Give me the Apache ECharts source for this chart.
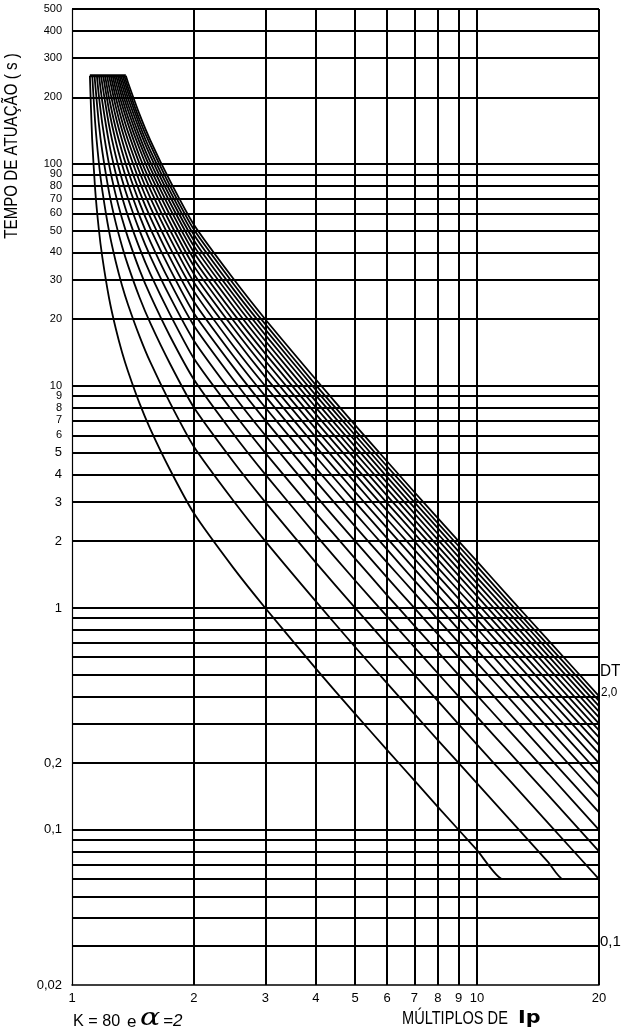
<!DOCTYPE html>
<html>
<head>
<meta charset="utf-8">
<script src="https://cdn.jsdelivr.net/npm/echarts@6/dist/echarts.min.js"></script>
<style>
html,body{margin:0;padding:0;background:#fff;}
#chart{width:624px;height:1033px;}
</style>
</head>
<body>
<div id="chart"></div>
<script>
// ---- data ----
const multiples = [1.121, 1.14, 1.164, 1.188, 1.235, 1.282, 1.329, 1.376, 1.469, 1.561, 1.742, 2, 2.5, 3, 4, 5, 6, 7, 8, 10, 12, 15, 20];
const dtLabels = [0.1,0.2,0.3,0.4,0.5,0.6,0.7,0.8,0.9,1.0,1.1,1.2,1.3,1.4,1.5,1.6,1.7,1.8,1.9,2.0];
const dt01 = [131, 78, 51.4, 38.1, 24.8, 18.2, 14.2, 11.6, 8.33, 6.4, 4.23, 2.67, 1.52, 1.0, 0.533, 0.333, 0.229, 0.167, 0.127, 0.081, 0.06, 0.06, 0.06];
const dt02 = [null, 156, 103, 76.2, 49.6, 36.4, 28.4, 23.2, 16.7, 12.8, 8.47, 5.33, 3.05, 2.0, 1.07, 0.667, 0.457, 0.333, 0.254, 0.162, 0.112, 0.0714, 0.06];
const dt03 = [null, 234, 154, 114, 74.4, 54.5, 42.7, 34.8, 25, 19.2, 12.7, 8.0, 4.57, 3.0, 1.6, 1.0, 0.686, 0.5, 0.381, 0.242, 0.168, 0.107, 0.06];
const dt04 = [null, null, 206, 152, 99.2, 72.7, 56.9, 46.4, 33.3, 25.6, 16.9, 10.7, 6.1, 4.0, 2.13, 1.33, 0.914, 0.667, 0.508, 0.323, 0.224, 0.143, 0.08];
const dt05 = [null, null, null, 191, 124, 90.9, 71.1, 58.0, 41.7, 32, 21.2, 13.3, 7.62, 5.0, 2.67, 1.67, 1.14, 0.833, 0.635, 0.404, 0.28, 0.179, 0.1];
const dt06 = [null, null, null, 229, 149, 109, 85.3, 69.6, 50, 38.4, 25.4, 16.0, 9.14, 6.0, 3.2, 2.0, 1.37, 1.0, 0.762, 0.485, 0.336, 0.214, 0.12];
const dt07 = [null, null, null, null, 174, 127, 99.6, 81.2, 58.3, 44.8, 29.6, 18.7, 10.7, 7.0, 3.73, 2.33, 1.6, 1.17, 0.889, 0.566, 0.392, 0.25, 0.14];
const dt08 = [null, null, null, null, 198, 145, 114, 92.8, 66.7, 51.2, 33.9, 21.3, 12.2, 8.0, 4.27, 2.67, 1.83, 1.33, 1.02, 0.646, 0.448, 0.286, 0.16];
const dt09 = [null, null, null, null, 223, 164, 128, 104, 75, 57.6, 38.1, 24.0, 13.7, 9.0, 4.8, 3.0, 2.06, 1.5, 1.14, 0.727, 0.503, 0.321, 0.18];
const dt10 = [null, null, null, null, null, 182, 142, 116, 83.3, 64, 42.3, 26.7, 15.2, 10, 5.33, 3.33, 2.29, 1.67, 1.27, 0.808, 0.559, 0.357, 0.2];
const dt11 = [null, null, null, null, null, 200, 156, 127.5, 91.7, 70.4, 46.6, 29.3, 16.8, 11, 5.87, 3.67, 2.51, 1.83, 1.4, 0.889, 0.615, 0.393, 0.221];
const dt12 = [null, null, null, null, null, 218, 171, 139, 100, 76.8, 50.8, 32, 18.3, 12, 6.4, 4.0, 2.74, 2.0, 1.52, 0.97, 0.671, 0.429, 0.241];
const dt13 = [null, null, null, null, null, 236, 185, 151, 108, 83.2, 55, 34.7, 19.8, 13, 6.93, 4.33, 2.97, 2.17, 1.65, 1.05, 0.727, 0.464, 0.261];
const dt14 = [null, null, null, null, null, null, 199, 162, 117, 89.6, 59.3, 37.3, 21.3, 14, 7.47, 4.67, 3.2, 2.33, 1.78, 1.13, 0.783, 0.5, 0.281];
const dt15 = [null, null, null, null, null, null, 213, 174, 125, 96, 63.5, 40, 22.9, 15, 8, 5, 3.43, 2.5, 1.9, 1.21, 0.839, 0.536, 0.301];
const dt16 = [null, null, null, null, null, null, 228, 185, 133, 102, 67.7, 42.7, 24.4, 16, 8.53, 5.33, 3.66, 2.67, 2.03, 1.29, 0.895, 0.571, 0.321];
const dt17 = [null, null, null, null, null, null, 242, 197, 142, 109, 72, 45.3, 25.9, 17, 9.07, 5.67, 3.89, 2.83, 2.16, 1.37, 0.951, 0.607, 0.341];
const dt18 = [null, null, null, null, null, null, null, 209, 150, 115, 76.2, 48, 27.4, 18, 9.6, 6, 4.11, 3, 2.29, 1.45, 1.01, 0.643, 0.361];
const dt19 = [null, null, null, null, null, null, null, 220, 158, 122, 80.4, 50.7, 29, 19, 10.1, 6.33, 4.34, 3.17, 2.41, 1.54, 1.06, 0.679, 0.381];
const dt20 = [null, null, null, null, null, null, null, 232, 167, 128, 84.7, 53.3, 30.5, 20, 10.7, 6.67, 4.57, 3.33, 2.54, 1.62, 1.12, 0.714, 0.401];
// multiple at which each curve leaves the upper plateau
const capStart = [1.107, 1.122, 1.137, 1.152, 1.166, 1.180, 1.194, 1.207, 1.221, 1.234, 1.247, 1.260, 1.273, 1.285, 1.298, 1.310, 1.322, 1.334, 1.346, 1.358];
const capTime = 250;
// multiple at which the lowest curves reach the minimum time
const floorStart = [11.55, 16.3];
const floorTime = 0.06;
// grid and tick values
const xGrid = [2, 3, 4, 5, 6, 7, 8, 9, 10, 20];
const xTickLabels = [1, 2, 3, 4, 5, 6, 7, 8, 9, 10, 20];
const yGrid = [0.03,0.04,0.05,0.06,0.07,0.08,0.09,0.1,0.2,0.3,0.4,0.5,0.6,0.7,0.8,0.9,1,2,3,4,5,6,7,8,9,10,20,30,40,50,60,70,80,90,100,200,300,400,500];
const yTickLabels = [0.02,0.1,0.2,1,2,3,4,5,6,7,8,9,10,20,30,40,50,60,70,80,90,100,200,300,400,500];
const bigYLabels = [0.02,0.1,0.2,1,2,3,4,5];

const curves = [dt01,dt02,dt03,dt04,dt05,dt06,dt07,dt08,dt09,dt10,dt11,dt12,dt13,dt14,dt15,dt16,dt17,dt18,dt19,dt20];

const SANS = "'Liberation Sans',Arial,sans-serif";

const chart = echarts.init(document.getElementById('chart'), null, {renderer:'canvas'});

const series = curves.map((vals, i) => {
  const pts = [[capStart[i], capTime]];
  multiples.forEach((m, j) => { if (vals[j] != null) pts.push([m, vals[j]]); });
  if (floorStart[i] != null) pts.push([floorStart[i], floorTime]);
  pts.sort((a, b) => a[0] - b[0]);
  return {
    name: 'DT ' + dtLabels[i],
    type: 'line',
    data: pts,
    showSymbol: false,
    smooth: 0.2,
    lineStyle: {color: '#000', width: 1.8},
    z: 5,
    silent: true
  };
});

series.push({
  name: 'plateau',
  type: 'line',
  data: [[capStart[0], capTime], [capStart[capStart.length - 1], capTime]],
  showSymbol: false,
  lineStyle: {color: '#000', width: 3},
  z: 6,
  silent: true,
  markLine: {
    silent: true,
    symbol: ['none', 'none'],
    label: {show: false},
    lineStyle: {color: '#000', width: 2, type: 'solid'},
    emphasis: {disabled: true},
    data: yGrid.map(v => ({yAxis: v})).concat(xGrid.map(v => ({xAxis: v})))
  }
});

const option = {
  animation: false,
  backgroundColor: '#fff',
  grid: {left: 72, right: 25, top: 9, bottom: 48},
  xAxis: {
    type: 'log', logBase: 10, min: 1, max: 20,
    axisLine: {show: true, lineStyle: {color: '#000', width: 1.5}},
    axisTick: {show: false},
    splitLine: {show: false},
    axisLabel: {
      customValues: xTickLabels,
      color: '#000', fontSize: 13, fontFamily: SANS, margin: 7,
      formatter: v => String(v)
    }
  },
  yAxis: {
    type: 'log', logBase: 10, min: 0.02, max: 500,
    axisLine: {show: true, lineStyle: {color: '#000', width: 1.2}},
    axisTick: {show: false},
    splitLine: {show: false},
    axisLabel: {
      customValues: yTickLabels,
      color: '#000', margin: 10, fontFamily: SANS,
      formatter: v => {
        const s = String(+v.toPrecision(6)).replace('.', ',');
        return bigYLabels.some(b => Math.abs(b - v) / b < 1e-6) ? '{b|' + s + '}' : '{s|' + s + '}';
      },
      rich: {
        b: {fontSize: 13, fontFamily: SANS, color: '#000'},
        s: {fontSize: 11, fontFamily: SANS, color: '#000'}
      }
    }
  },
  graphic: [
    {type: 'text', x: 12, y: 146, rotation: Math.PI / 2, scaleX: 0.84, silent: true,
     style: {text: 'TEMPO DE ATUAÇÃO ( s )', font: '18px ' + SANS, fill: '#000', align: 'center', verticalAlign: 'middle'}},
    {type: 'text', x: 73, y: 1021, scaleX: 0.95, silent: true,
     style: {text: 'K = 80', font: '17px ' + SANS, fill: '#000', align: 'left', verticalAlign: 'middle'}},
    {type: 'text', x: 127, y: 1022, silent: true,
     style: {text: 'e', font: '17px ' + SANS, fill: '#000', align: 'left', verticalAlign: 'middle'}},
    {type: 'text', x: 140, y: 1019, scaleX: 1.25, silent: true,
     style: {text: 'α', font: 'italic 24px "DejaVu Serif", serif', fill: '#000', align: 'left', verticalAlign: 'middle'}},
    {type: 'text', x: 163, y: 1021, silent: true,
     style: {text: '=2', font: 'italic 17px ' + SANS, fill: '#000', align: 'left', verticalAlign: 'middle'}},
    {type: 'text', x: 402, y: 1019, scaleX: 0.81, silent: true,
     style: {text: 'MÚLTIPLOS DE', font: '18px ' + SANS, fill: '#000', align: 'left', verticalAlign: 'middle'}},
    {type: 'text', x: 518, y: 1018, scaleX: 1.15, silent: true,
     style: {text: 'Ip', font: '900 18px "DejaVu Sans", sans-serif', fill: '#000', align: 'left', verticalAlign: 'middle'}},
    {type: 'text', x: 600, y: 671, scaleX: 0.9, silent: true,
     style: {text: 'DT', font: '17px ' + SANS, fill: '#000', align: 'left', verticalAlign: 'middle'}},
    {type: 'text', x: 601, y: 692, scaleX: 0.9, silent: true,
     style: {text: '2,0', font: '13px ' + SANS, fill: '#000', align: 'left', verticalAlign: 'middle'}},
    {type: 'text', x: 600, y: 942, silent: true,
     style: {text: '0,1', font: '15px ' + SANS, fill: '#000', align: 'left', verticalAlign: 'middle'}}
  ],
  series: series
};

chart.setOption(option);
</script>
</body>
</html>
